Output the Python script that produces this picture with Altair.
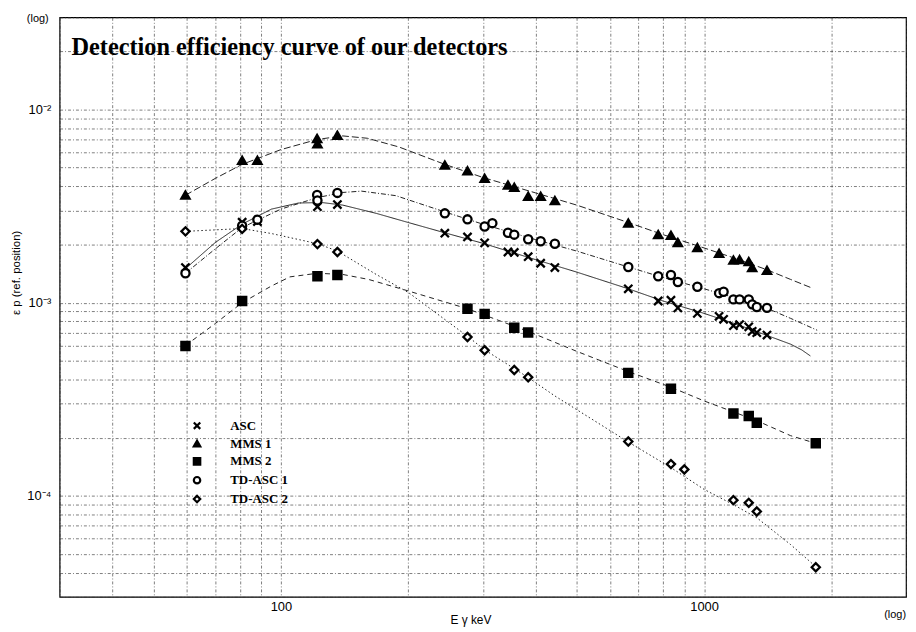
import altair as alt
import pandas as pd

SERIES = ["ASC", "MMS 1", "MMS 2", "TD-ASC 1", "TD-ASC 2"]

# ---- measured points (energy keV, efficiency) ----
asc_e = [59.5, 81, 88, 122, 136, 244, 276, 303, 344, 356, 384, 411, 444, 662, 779, 835, 867, 964,
         1085, 1112, 1173, 1213, 1275, 1299, 1332, 1408]
asc_v = [1.52e-3, 2.61e-3, 2.63e-3, 3.14e-3, 3.22e-3, 2.29e-3, 2.19e-3, 2.04e-3, 1.83e-3, 1.82e-3,
         1.73e-3, 1.60e-3, 1.52e-3, 1.18e-3, 1.02e-3, 1.03e-3, 9.4e-4, 8.8e-4,
         8.5e-4, 8.2e-4, 7.6e-4, 7.7e-4, 7.5e-4, 7.1e-4, 7.0e-4, 6.8e-4]

mms1_e = [59.5, 81, 88, 121.8, 122, 136, 244, 276, 303, 344, 356, 384, 411, 444, 662, 779, 835, 867,
          964, 1085, 1173, 1213, 1275, 1299, 1408]
mms1_v = [3.61e-3, 5.46e-3, 5.46e-3, 7.08e-3, 6.64e-3, 7.36e-3, 5.16e-3, 4.81e-3, 4.40e-3, 4.06e-3,
          3.95e-3, 3.55e-3, 3.55e-3, 3.38e-3, 2.58e-3, 2.25e-3, 2.23e-3, 2.05e-3,
          1.93e-3, 1.80e-3, 1.66e-3, 1.67e-3, 1.63e-3, 1.52e-3, 1.47e-3]

mms2_e = [59.5, 81, 122, 136, 276, 303, 356, 384, 662, 835, 1173, 1275, 1332, 1836]
mms2_v = [5.97e-4, 1.02e-3, 1.37e-3, 1.39e-3, 9.29e-4, 8.75e-4, 7.41e-4, 7.0e-4, 4.33e-4, 3.58e-4,
          2.67e-4, 2.59e-4, 2.39e-4, 1.87e-4]

td1_e = [59.5, 81, 88, 121.8, 122, 136, 244, 276, 303, 316, 344, 356, 384, 411, 444, 662, 779, 835,
         867, 964, 1085, 1112, 1173, 1213, 1275, 1299, 1332, 1408]
td1_v = [1.42e-3, 2.50e-3, 2.69e-3, 3.61e-3, 3.38e-3, 3.70e-3, 2.90e-3, 2.70e-3, 2.48e-3, 2.58e-3,
         2.30e-3, 2.25e-3, 2.13e-3, 2.08e-3, 2.02e-3, 1.53e-3, 1.37e-3, 1.39e-3,
         1.28e-3, 1.21e-3, 1.12e-3, 1.14e-3, 1.04e-3, 1.04e-3, 1.04e-3, 9.8e-4, 9.5e-4, 9.4e-4]

td2_e = [59.5, 81, 122, 136, 276, 303, 356, 384, 662, 835, 898, 1173, 1275, 1332, 1836]
td2_v = [2.34e-3, 2.41e-3, 2.01e-3, 1.83e-3, 6.64e-4, 5.67e-4, 4.48e-4, 4.11e-4, 1.91e-4, 1.46e-4,
         1.37e-4, 9.5e-5, 9.2e-5, 8.3e-5, 4.27e-5]

# ---- fitted curves ----
asc_ce = [59.5, 70, 81, 95, 110, 125, 140, 168, 200, 244, 300, 400, 500, 662, 800, 1000, 1200, 1400,
          1600, 1700, 1783]
asc_cv = [1.50e-3, 2.05e-3, 2.55e-3, 3.05e-3, 3.28e-3, 3.30e-3, 3.20e-3, 2.90e-3, 2.60e-3, 2.30e-3,
          2.03e-3, 1.67e-3, 1.44e-3, 1.18e-3, 1.02e-3, 8.8e-4, 7.7e-4, 6.8e-4, 6.1e-4, 5.7e-4, 5.3e-4]

mms1_ce = [59.5, 70, 81, 100, 122, 140, 160, 190, 244, 300, 400, 500, 662, 800, 1000, 1200, 1408,
           1600, 1783]
mms1_cv = [3.60e-3, 4.40e-3, 5.20e-3, 6.20e-3, 7.00e-3, 7.30e-3, 7.10e-3, 6.40e-3, 5.20e-3, 4.45e-3,
           3.70e-3, 3.20e-3, 2.60e-3, 2.25e-3, 1.92e-3, 1.68e-3, 1.48e-3, 1.32e-3, 1.20e-3]

mms2_ce = [59.5, 70, 81, 95, 105, 122, 140, 161, 200, 276, 384, 500, 662, 835, 1000, 1332, 1600, 1836]
mms2_cv = [6.0e-4, 7.8e-4, 1.0e-3, 1.22e-3, 1.36e-3, 1.42e-3, 1.40e-3, 1.32e-3, 1.15e-3, 9.3e-4,
           7.1e-4, 5.6e-4, 4.4e-4, 3.65e-4, 3.1e-4, 2.45e-4, 2.05e-4, 1.87e-4]

td1_ce = [59.5, 70, 81, 100, 122, 140, 155, 187, 244, 300, 400, 500, 662, 800, 1000, 1200, 1400,
          1600, 1850]
td1_cv = [1.42e-3, 1.90e-3, 2.45e-3, 3.05e-3, 3.50e-3, 3.72e-3, 3.78e-3, 3.58e-3, 2.95e-3, 2.55e-3,
          2.12e-3, 1.85e-3, 1.53e-3, 1.35e-3, 1.18e-3, 1.05e-3, 9.4e-4, 8.3e-4, 7.2e-4]

td2_ce = [59.5, 81, 95, 122, 136, 168, 200, 276, 303, 384, 443, 662, 835, 1000, 1173, 1332, 1600, 1836]
td2_cv = [2.34e-3, 2.42e-3, 2.28e-3, 2.02e-3, 1.85e-3, 1.40e-3, 1.13e-3, 6.7e-4, 5.7e-4, 4.1e-4,
          3.3e-4, 1.9e-4, 1.4e-4, 1.08e-4, 9.0e-5, 7.7e-5, 5.6e-5, 4.3e-5]

# ---- axes ----
X_GRID = [30, 40, 50, 60, 70, 80, 90, 100, 200, 300, 400, 500, 600, 700, 800, 900, 1000, 2000, 3000]
Y_GRID = [3e-5, 4e-5, 5e-5, 6e-5, 7e-5, 8e-5, 9e-5, 1e-4, 2e-4, 3e-4, 4e-4, 5e-4, 6e-4, 7e-4, 8e-4,
          9e-4, 1e-3, 2e-3, 3e-3, 4e-3, 5e-3, 6e-3, 7e-3, 8e-3, 9e-3, 1e-2, 2e-2, 3e-2]
X_DOMAIN = [30, 3000]
Y_DOMAIN = [3e-5, 3e-2]

TITLE = ["Detection efficiency curve of our detectors"]
LOG_LABEL = ["(log)"]

pts = pd.concat([
    pd.DataFrame({"E": e, "V": v, "series": s})
    for e, v, s in [(asc_e, asc_v, SERIES[0]), (mms1_e, mms1_v, SERIES[1]), (mms2_e, mms2_v, SERIES[2]),
                    (td1_e, td1_v, SERIES[3]), (td2_e, td2_v, SERIES[4])]
], ignore_index=True)

curves = pd.concat([
    pd.DataFrame({"E": e, "V": v, "curve": s})
    for e, v, s in [(asc_ce, asc_cv, SERIES[0]), (mms1_ce, mms1_cv, SERIES[1]), (mms2_ce, mms2_cv, SERIES[2]),
                    (td1_ce, td1_cv, SERIES[3]), (td2_ce, td2_cv, SERIES[4])]
], ignore_index=True)

xscale = alt.Scale(type="log", domain=X_DOMAIN, nice=False)
yscale = alt.Scale(type="log", domain=Y_DOMAIN, nice=False)

grid_kw = dict(grid=True, gridColor="#333333", gridDash=[3, 2, 1, 2], gridWidth=0.7, gridOpacity=0.9,
               ticks=False, domain=False, labelOverlap=False, labelFlush=False,
               labelFont="Liberation Sans", labelFontSize=13, labelColor="black",
               titleFont="Liberation Sans", titleFontWeight="normal", titleColor="black")

xaxis = alt.Axis(values=X_GRID,
                 labelExpr="datum.value == 100 ? '100' : datum.value == 1000 ? '1000' : ''",
                 labelPadding=4, title="E γ  keV", titleFontSize=12,
                 titleX=414, titleY=23, titleAlign="center", titleBaseline="middle", **grid_kw)
yaxis = alt.Axis(values=Y_GRID,
                 labelExpr="datum.value == 0.01 ? '10⁻²' : datum.value == 0.001 ? '10⁻³' : datum.value == 0.0001 ? '10⁻⁴' : ''",
                 labelPadding=9, title="ε p (ref. position)", titleFontSize=11.5,
                 titleX=-43, titleY=257, titleAlign="center", titleBaseline="middle", titleAngle=270,
                 **grid_kw)

X_PATH = "M-1,-1L1,1M-1,1L1,-1"
shape_range = [X_PATH, "triangle-up", "square", "circle", "diamond"]
fill_range = ["white", "black", "black", "white", "white"]
stroke_range = ["black", "black", "black", "black", "black"]
dash_list = [[1, 0], [7, 3], [5, 4], [5, 2, 1, 2], [1.5, 2.5]]

legend = alt.Legend(orient="none", legendX=132, legendY=405, title=None,
                    labelFont="Liberation Serif", labelFontWeight="bold", labelFontSize=13,
                    labelColor="black", symbolSize=42, symbolStrokeWidth=2.2,
                    rowPadding=2, labelOffset=27, padding=0)

line_layers = []
for name, dash in zip(SERIES, dash_list):
    line_layers.append(
        alt.Chart(curves).transform_filter(alt.datum.curve == name)
        .mark_line(color="#222", strokeWidth=1, strokeDash=dash).encode(
            x=alt.X("E:Q", scale=xscale, axis=xaxis),
            y=alt.Y("V:Q", scale=yscale, axis=yaxis),
            order="E:Q",
        )
    )

points = alt.Chart(pts).mark_point(filled=True, strokeWidth=2.3, opacity=1, size=68).encode(
    x=alt.X("E:Q", scale=xscale),
    y=alt.Y("V:Q", scale=yscale),
    shape=alt.Shape("series:N", scale=alt.Scale(domain=SERIES, range=shape_range), legend=legend),
    fill=alt.Fill("series:N", scale=alt.Scale(domain=SERIES, range=fill_range), legend=legend),
    stroke=alt.Stroke("series:N", scale=alt.Scale(domain=SERIES, range=stroke_range), legend=legend),
)

title_txt = alt.Chart(pd.DataFrame({"t": TITLE})).mark_text(
    align="left", baseline="alphabetic", font="Liberation Serif", fontWeight="bold", fontSize=24.5,
    color="black").encode(text="t:N", x=alt.value(12), y=alt.value(38))

log_top = alt.Chart(pd.DataFrame({"t": LOG_LABEL})).mark_text(
    align="center", baseline="middle", font="Liberation Sans", fontSize=11, color="black").encode(
    text="t:N", x=alt.value(-22), y=alt.value(2))

log_right = alt.Chart(pd.DataFrame({"t": LOG_LABEL})).mark_text(
    align="center", baseline="middle", font="Liberation Sans", fontSize=11, color="black").encode(
    text="t:N", x=alt.value(842), y=alt.value(602))

chart = alt.layer(*line_layers, points, title_txt, log_top, log_right).properties(
    width=853, height=584,
    autosize=alt.AutoSizeParams(type="none"),
    padding={"left": 52, "top": 7, "right": 2, "bottom": 31},
    background="white",
).configure_view(stroke="black", strokeWidth=1.2)

chart.save("out.html", embed_options={"renderer": "svg", "actions": False})
